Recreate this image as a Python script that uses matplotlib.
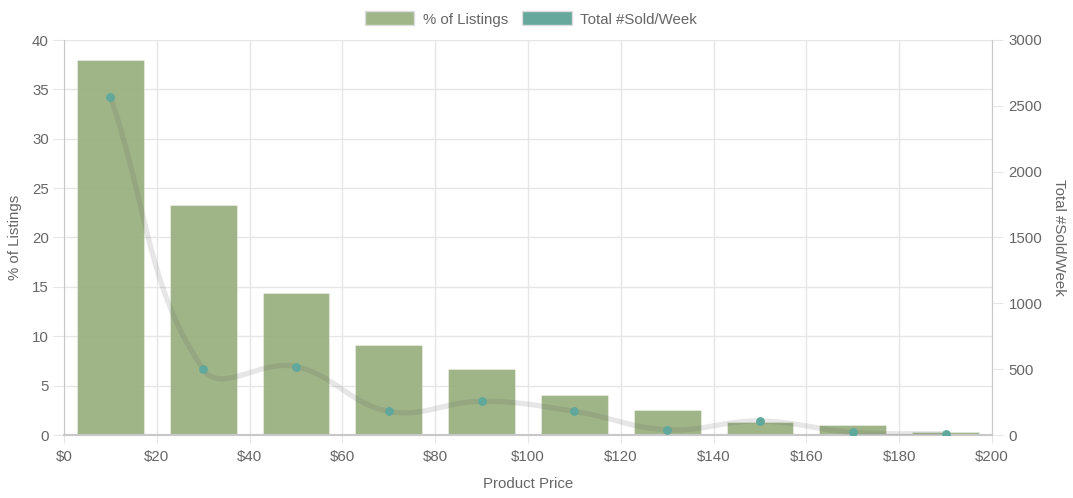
import numpy as np
import matplotlib
matplotlib.use("Agg")
import matplotlib.pyplot as plt
from matplotlib.patches import Patch

plt.rcParams['font.family'] = ['Liberation Sans', 'DejaVu Sans']

# ---- data ----
price_centers = [10, 30, 50, 70, 90, 110, 130, 150, 170, 190]
pct_listings = [38.0, 23.3, 14.4, 9.1, 6.7, 4.05, 2.57, 1.3, 1.0, 0.27]
sold_per_week = [2570, 500, 520, 180, 256, 180, 40, 106, 20, 10]
x_ticks = [0, 20, 40, 60, 80, 100, 120, 140, 160, 180, 200]
x_tick_labels = ['$0', '$20', '$40', '$60', '$80', '$100', '$120', '$140', '$160', '$180', '$200']
left_ticks = [0, 5, 10, 15, 20, 25, 30, 35, 40]
right_ticks = [0, 500, 1000, 1500, 2000, 2500, 3000]

W, H = 1073, 498
fig = plt.figure(figsize=(W / 100, H / 100), dpi=100)
L, R, T, B = 64, 992, 40, 435
ax = fig.add_axes([L / W, 1 - B / H, (R - L) / W, (B - T) / H])
ax2 = ax.twinx()

txt = '#666666'
grid = '#e6e6e6'
bar_col = (149 / 255, 173 / 255, 123 / 255, 0.9)
pt_col = '#5fa89b'
fs = 10.8

ax.set_xlim(0, 200)
ax.set_ylim(0, 40)
ax2.set_ylim(0, 3000)

ax.set_axisbelow(True)
ax.grid(True, color=grid, linewidth=1)
ax.bar(price_centers, pct_listings, width=14.4, color=bar_col,
       edgecolor=(1, 1, 1, 0.35), linewidth=0.8, zorder=2)

ax.set_xticks(x_ticks)
ax.set_xticklabels(x_tick_labels)
ax.set_yticks(left_ticks)
ax2.set_yticks(right_ticks)

for a in (ax, ax2):
    for s in a.spines.values():
        s.set_visible(False)
ax.spines['left'].set_visible(True)
ax.spines['left'].set_color('#c8c8c8')
ax.spines['bottom'].set_visible(True)
ax.spines['bottom'].set_color('#c8c8c8')
ax.spines['bottom'].set_linewidth(1.5)
ax2.spines['right'].set_visible(True)
ax2.spines['right'].set_color('#c8c8c8')

ax.tick_params(axis='x', colors=grid, labelcolor=txt, labelsize=fs, length=6, pad=5)
ax.tick_params(axis='y', colors=grid, labelcolor=txt, labelsize=fs, length=8, pad=3)
ax2.tick_params(axis='y', colors=grid, labelcolor=txt, labelsize=fs, length=8, pad=4)

ax.set_xlabel('Product Price', color=txt, fontsize=fs, labelpad=9)
ax.set_ylabel('% of Listings', color=txt, fontsize=fs, labelpad=7)
ax2.set_ylabel('Total #Sold/Week', color=txt, fontsize=fs, rotation=270, labelpad=17)

# ---- smooth line (Chart.js-style tension 0.4 bezier, computed in pixel space) ----
fig.canvas.draw()
tr = ax2.transData
pts = tr.transform(np.column_stack([price_centers, sold_per_week]))
t = 0.4
n = len(pts)
cps = []
for i in range(n):
    cur = pts[i]
    prev = pts[i - 1] if i > 0 else cur
    nxt = pts[i + 1] if i < n - 1 else cur
    d01 = np.hypot(*(cur - prev))
    d12 = np.hypot(*(nxt - cur))
    tot = d01 + d12
    s01 = d01 / tot if tot else 0
    s12 = d12 / tot if tot else 0
    fa, fb = t * s01, t * s12
    cp_prev = cur - fa * (nxt - prev)
    cp_next = cur + fb * (nxt - prev)
    cps.append((cp_prev, cp_next))
curve = []
u = np.linspace(0, 1, 40)[:, None]
for i in range(n - 1):
    p0 = pts[i]
    p1 = cps[i][1]
    p2 = cps[i + 1][0]
    p3 = pts[i + 1]
    seg = ((1 - u) ** 3) * p0 + 3 * ((1 - u) ** 2) * u * p1 + 3 * (1 - u) * u ** 2 * p2 + u ** 3 * p3
    curve.append(seg if i == 0 else seg[1:])
curve = np.vstack(curve)
curve_data = tr.inverted().transform(curve)
ax2.plot(curve_data[:, 0], curve_data[:, 1], color=(0.35, 0.35, 0.35, 0.15),
         linewidth=3.8, solid_capstyle='round', zorder=3)
ax2.scatter(price_centers, sold_per_week, s=40, color=pt_col, zorder=4, linewidths=0)

# ---- legend ----
handles = [Patch(facecolor=(160 / 255, 181 / 255, 136 / 255), edgecolor='#dddddd', linewidth=1),
           Patch(facecolor='#66a89c', edgecolor='#dddddd', linewidth=1)]
fig.legend(handles, ['% of Listings', 'Total #Sold/Week'], loc='center',
           bbox_to_anchor=(531 / W, 1 - 19 / H), ncol=2, frameon=False,
           fontsize=fs, labelcolor=txt, handlelength=3.3, handleheight=1.05,
           handletextpad=0.6, columnspacing=0.9)

fig.savefig('out.png', dpi=100)
